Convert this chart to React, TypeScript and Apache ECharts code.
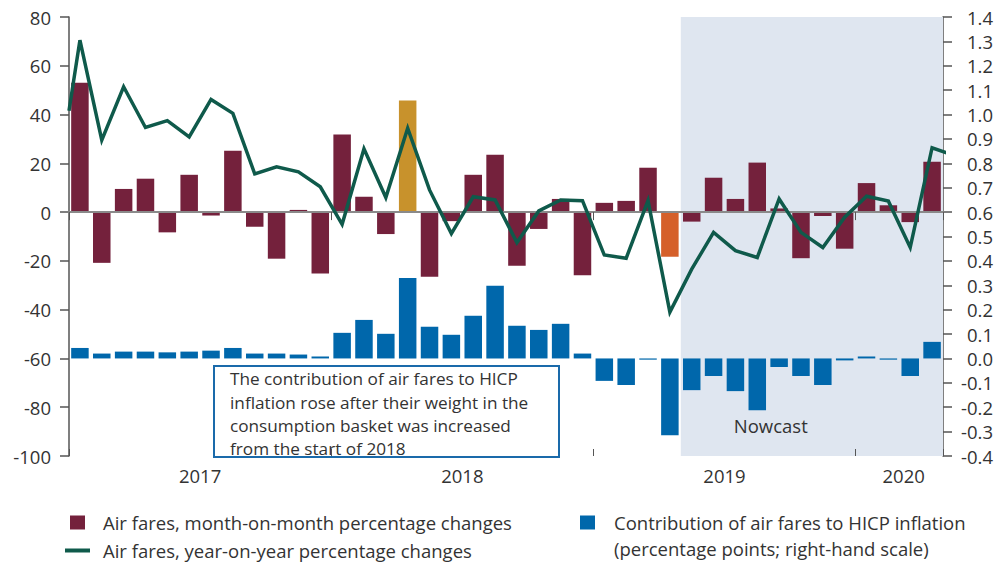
import React, { useEffect, useRef } from "react";
import * as echarts from "echarts";

const months = [
  "2017-01","2017-02","2017-03","2017-04","2017-05","2017-06","2017-07","2017-08","2017-09","2017-10","2017-11","2017-12",
  "2018-01","2018-02","2018-03","2018-04","2018-05","2018-06","2018-07","2018-08","2018-09","2018-10","2018-11","2018-12",
  "2019-01","2019-02","2019-03","2019-04","2019-05","2019-06","2019-07","2019-08","2019-09","2019-10","2019-11","2019-12",
  "2020-01","2020-02","2020-03","2020-04",
];

// month-on-month % changes (left scale)
const momChanges = [
  53.0, -20.8, 9.5, 13.7, -8.3, 15.3, -1.4, 25.2, -6.0, -19.1, 0.9, -25.2,
  31.8, 6.3, -9.0, 45.8, -26.5, -3.7, 15.3, 23.5, -22.0, -6.9, 5.4, -25.9,
  3.8, 4.6, 18.2, -18.3, -3.9, 14.1, 5.4, 20.3, 1.5, -18.9, -1.6, -15.0,
  11.9, 2.8, -4.1, 20.7,
];

// year-on-year % changes (left scale): value where the line enters the plot,
// then Jan 2017 .. Apr 2020, then May 2020 (partly visible at the right edge)
const yoyStartValue = 41.6;
const yoyChanges = [
  70.5, 29.5, 51.4, 34.7, 37.5, 30.8, 46.2, 40.5, 15.7, 18.6, 16.5, 10.4,
  -5.0, 26.0, 6.0, 34.4, 9.1, -8.8, 6.3, 5.0, -12.5, 0.5, 5.0, 4.7,
  -17.6, -18.9, 4.7, -41.0, -23.4, -8.3, -15.8, -18.6, 5.4, -8.3, -14.5, -2.1,
  6.5, 4.5, -14.5, 26.4,
  23.3,
];

// contribution to HICP inflation, percentage points (right scale)
const contributions = [
  0.043, 0.02, 0.028, 0.028, 0.025, 0.028, 0.032, 0.043, 0.02, 0.02, 0.016, 0.008,
  0.105, 0.158, 0.101, 0.33, 0.13, 0.097, 0.175, 0.298, 0.134, 0.117, 0.142, 0.02,
  -0.092, -0.109, -0.005, -0.315, -0.13, -0.072, -0.134, -0.212, -0.035, -0.072, -0.109, -0.008,
  0.008, -0.005, -0.072, 0.068,
];

const highlightMonths: Record<string, string> = {
  "2018-04": "#c8922c",
  "2019-04": "#d5602a",
};

const yearLabels = [
  { pos: 6, text: "2017" },
  { pos: 18, text: "2018" },
  { pos: 30, text: "2019" },
  { pos: 38.2, text: "2020" },
];

const nowcastStart = "2019-05";

const annotationLines = [
  "The contribution of air fares to HICP",
  "inflation rose after their weight in the",
  "consumption basket was increased",
  "from the start of 2018",
];

const momName = "Air fares, month-on-month percentage changes";
const yoyName = "Air fares, year-on-year percentage changes";
const contribName = "Contribution of air fares to HICP inflation";
const contribName2 = "(percentage points; right-hand scale)";

const FONT = "'Open Sans', sans-serif";
const FS = 18.5;
const MAROON = "#74213c";
const GREEN = "#0f5a4b";
const BLUE = "#0067ab";
const TEXT = "#333333";

export default function App() {
  const ref = useRef<HTMLDivElement>(null);

  useEffect(() => {
    if (!ref.current) return;
    const chart = echarts.init(ref.current, undefined, { renderer: "svg" });

    const momData = months.map((m, i) => {
      const c = highlightMonths[m];
      return c ? { value: [i + 0.5, momChanges[i]], itemStyle: { color: c } } : { value: [i + 0.5, momChanges[i]] };
    });
    const contribData = months.map((m, i) => [i + 0.5, contributions[i]]);
    const yoyData = [[0, yoyStartValue], ...yoyChanges.map((v, i) => [i + 0.5, v])];
    const nowIdx = months.indexOf(nowcastStart);

    const axisLabelStyle = { color: TEXT, fontSize: FS, fontFamily: FONT };
    const legendText = { color: TEXT, fontSize: FS, fontFamily: FONT };

    chart.setOption({
      animation: false,
      textStyle: { fontFamily: FONT },
      grid: { left: 69, right: 65, top: 17, bottom: 107, containLabel: false },
      xAxis: [
        {
          type: "value",
          min: 0,
          max: months.length,
          interval: 0.2,
          position: "bottom",
          axisLine: { show: false, onZero: false },
          axisTick: { show: false },
          splitLine: { show: false },
          axisLabel: {
            ...axisLabelStyle,
            margin: 10,
            formatter: (v: number) => {
              const y = yearLabels.find((l) => Math.abs(l.pos - v) < 0.05);
              return y ? y.text : "";
            },
          },
        },
        {
          type: "value",
          min: 0,
          max: months.length,
          interval: 12,
          position: "bottom",
          z: 4,
          axisLine: { show: true, onZero: true, onZeroAxisIndex: 0, lineStyle: { color: "#8a8a8a", width: 2 } },
          axisTick: { show: true, length: 8, lineStyle: { color: "#555", width: 1 } },
          axisLabel: { show: false },
          splitLine: { show: false },
        },
        {
          type: "value",
          min: 0,
          max: months.length,
          interval: 12,
          position: "bottom",
          z: 6,
          axisLine: { show: false, onZero: false },
          axisTick: { show: true, inside: true, length: 7, lineStyle: { color: "#555", width: 1 } },
          axisLabel: { show: false },
          splitLine: { show: false },
        },
      ],
      yAxis: [
        {
          type: "value",
          min: -100,
          max: 80,
          interval: 20,
          position: "left",
          axisLine: { show: true, onZero: false, lineStyle: { color: "#555", width: 1.5 } },
          axisTick: { show: true, length: 9, lineStyle: { color: "#555", width: 1.5 } },
          splitLine: { show: false },
          axisLabel: { ...axisLabelStyle, margin: 18 },
        },
        {
          type: "value",
          min: -0.4,
          max: 1.4,
          interval: 0.1,
          position: "right",
          axisLine: { show: true, onZero: false, lineStyle: { color: "#555", width: 1.5 } },
          axisTick: { show: true, length: 9, lineStyle: { color: "#555", width: 1.5 } },
          splitLine: { show: false },
          axisLabel: {
            ...axisLabelStyle,
            margin: 50,
            align: "right",
            formatter: (v: number) => v.toFixed(1),
          },
        },
      ],
      legend: [
        {
          left: 70,
          top: 513,
          padding: 0,
          selectedMode: false,
          itemWidth: 15,
          itemHeight: 14,
          data: [{ name: momName, icon: "rect" }],
          textStyle: { ...legendText, padding: [0, 0, 0, 13] },
        },
        {
          left: 65,
          top: 541,
          padding: 0,
          selectedMode: false,
          itemWidth: 25,
          itemHeight: 4,
          data: [{ name: yoyName, icon: "rect" }],
          textStyle: { ...legendText, padding: [0, 0, 0, 8] },
        },
        {
          left: 580,
          top: 513,
          padding: 0,
          selectedMode: false,
          itemWidth: 15,
          itemHeight: 14,
          data: [{ name: contribName, icon: "rect" }],
          textStyle: { ...legendText, padding: [0, 0, 0, 14] },
        },
      ],
      series: [
        {
          name: momName,
          type: "bar",
          xAxisIndex: 0,
          yAxisIndex: 0,
          barWidth: 17.5,
          barGap: "-100%",
          itemStyle: { color: MAROON },
          data: momData,
          z: 2,
          markArea: {
            silent: true,
            itemStyle: { color: "#dfe6f0" },
            label: {
              show: true,
              position: [53, 399],
              color: TEXT,
              fontSize: FS,
              fontFamily: FONT,
            },
            data: [[{ name: "Nowcast", xAxis: nowIdx }, { xAxis: months.length }]],
          },
        },
        {
          name: contribName,
          type: "bar",
          xAxisIndex: 0,
          yAxisIndex: 1,
          barWidth: 17.5,
          barGap: "-100%",
          itemStyle: { color: BLUE },
          data: contribData,
          z: 2,
        },
        {
          name: yoyName,
          type: "line",
          xAxisIndex: 0,
          yAxisIndex: 0,
          symbol: "none",
          clip: true,
          lineStyle: { color: GREEN, width: 3.5, join: "miter" },
          itemStyle: { color: GREEN },
          data: yoyData,
          z: 5,
        },
      ],
      graphic: [
        {
          type: "group",
          left: 213,
          top: 365,
          z: 3,
          children: [
            {
              type: "rect",
              shape: { x: 0, y: 0, width: 345, height: 91 },
              style: { fill: "#ffffff", stroke: "#1a6aaa", lineWidth: 2 },
            },
            {
              type: "text",
              x: 16,
              y: 1,
              style: {
                text: annotationLines.join("\n"),
                fill: TEXT,
                fontSize: 17.2,
                fontFamily: FONT,
                lineHeight: 23.4,
              },
            },
          ],
        },
        {
          type: "text",
          left: 614,
          top: 539,
          style: {
            text: contribName2,
            fill: TEXT,
            fontSize: FS,
            fontFamily: FONT,
          },
        },
      ],
    });

    return () => chart.dispose();
  }, []);

  return <div ref={ref} style={{ width: 1008, height: 563, position: "absolute", left: 0, top: 0 }} />;
}
